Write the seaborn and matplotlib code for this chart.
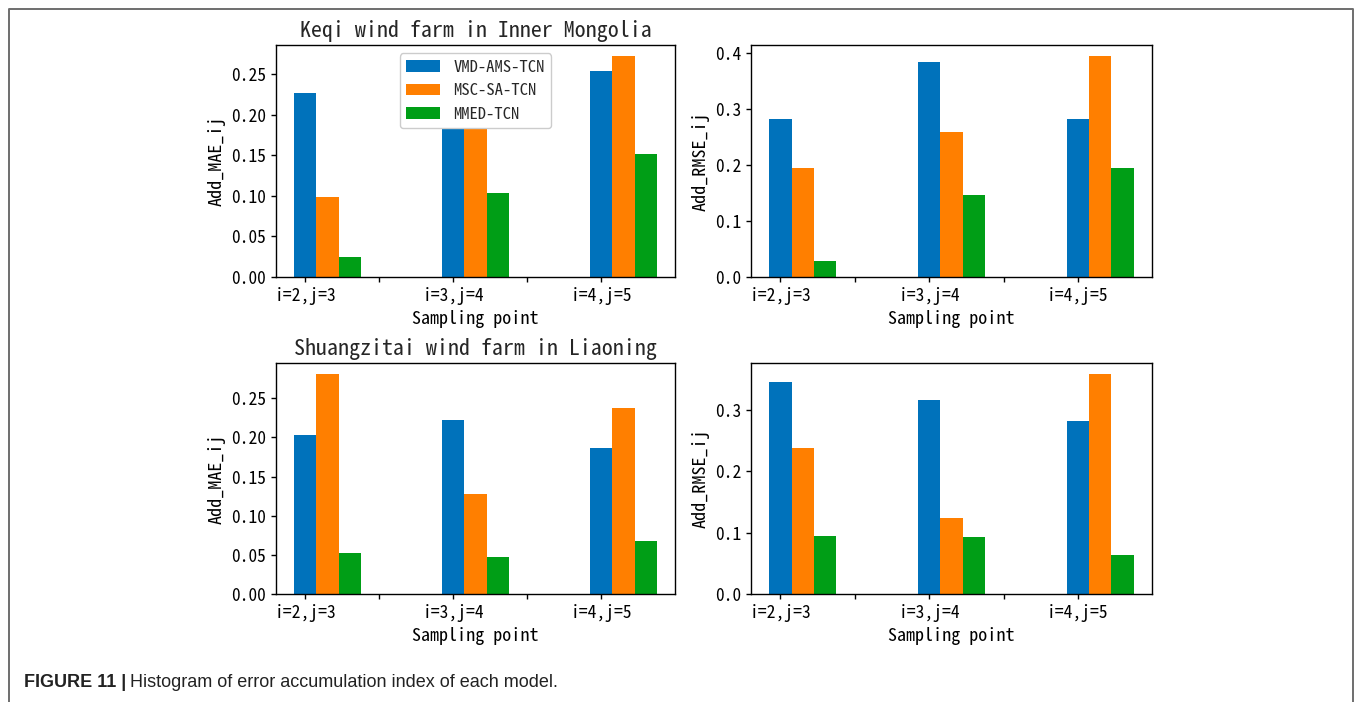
import numpy as np
import pandas as pd
import matplotlib
matplotlib.use("Agg")
import matplotlib.pyplot as plt
from matplotlib.lines import Line2D
from matplotlib.ticker import FormatStrFormatter
import seaborn as sns

# Sampling points (x categories) and models (hue)
points = ["i=2,j=3", "i=3,j=4", "i=4,j=5"]
models = ["VMD-AMS-TCN", "MSC-SA-TCN", "MMED-TCN"]
colors = ["#0072bb", "#ff7f00", "#009e16"]

# Keqi wind farm in Inner Mongolia
keqi_mae_vmd = [0.226, 0.220, 0.253]
keqi_mae_msc = [0.099, 0.205, 0.272]
keqi_mae_mmed = [0.025, 0.103, 0.151]
keqi_rmse_vmd = [0.282, 0.385, 0.283]
keqi_rmse_msc = [0.194, 0.259, 0.395]
keqi_rmse_mmed = [0.029, 0.146, 0.194]

# Shuangzitai wind farm in Liaoning
shz_mae_vmd = [0.203, 0.222, 0.187]
shz_mae_msc = [0.281, 0.128, 0.238]
shz_mae_mmed = [0.053, 0.047, 0.068]
shz_rmse_vmd = [0.345, 0.316, 0.281]
shz_rmse_msc = [0.237, 0.123, 0.358]
shz_rmse_mmed = [0.094, 0.092, 0.063]


def long_frame(vmd, msc, mmed):
    rows = []
    for model, vals in zip(models, (vmd, msc, mmed)):
        for p, v in zip(points, vals):
            rows.append({"point": p, "model": model, "value": v})
    return pd.DataFrame(rows)


sns.set_theme(style="ticks")
mono = ["Noto Sans Mono CJK SC", "DejaVu Sans Mono"]
plt.rcParams["font.family"] = mono
plt.rcParams["axes.edgecolor"] = "black"
plt.rcParams["axes.linewidth"] = 1.0
plt.rcParams["xtick.color"] = "black"
plt.rcParams["ytick.color"] = "black"
plt.rcParams["axes.labelcolor"] = "black"

W, H = 1356, 702
fig = plt.figure(figsize=(W / 100, H / 100), dpi=100)


def px_axes(left, top, right, bottom):
    return fig.add_axes([left / W, 1 - bottom / H, (right - left) / W, (bottom - top) / H])


panels = [
    (px_axes(276, 45, 675, 277), (keqi_mae_vmd, keqi_mae_msc, keqi_mae_mmed),
     "Add_MAE_ij", "Keqi wind farm in Inner Mongolia", True, "%.2f"),
    (px_axes(751, 45, 1152, 277), (keqi_rmse_vmd, keqi_rmse_msc, keqi_rmse_mmed),
     "Add_RMSE_ij", None, False, "%.1f"),
    (px_axes(276, 363, 675, 594), (shz_mae_vmd, shz_mae_msc, shz_mae_mmed),
     "Add_MAE_ij", "Shuangzitai wind farm in Liaoning", False, "%.2f"),
    (px_axes(751, 363, 1152, 594), (shz_rmse_vmd, shz_rmse_msc, shz_rmse_mmed),
     "Add_RMSE_ij", None, False, "%.1f"),
]

bar_w = 0.15
for ax, series, ylabel, title, show_legend, yfmt in panels:
    df = long_frame(*series)
    sns.barplot(data=df, x="point", y="value", hue="model", hue_order=models,
                palette=colors, saturation=1, width=3 * bar_w, errorbar=None,
                linewidth=0, legend=show_legend, ax=ax)
    n = len(points)
    first = np.arange(n) - bar_w
    ticks = np.sort(np.concatenate([first, first[:-1] + 0.5]))
    labels = []
    for t in ticks:
        idx = np.where(np.isclose(first, t))[0]
        labels.append(points[idx[0]] if len(idx) else "")
    ax.set_xticks(ticks)
    ax.set_xticklabels(labels, fontsize=12.6)
    ax.set_xlim(-0.3475, n - 1 + 0.3475)
    ax.set_ylim(0, max(max(s) for s in series) * 1.05)
    ax.yaxis.set_major_formatter(FormatStrFormatter(yfmt))
    ax.tick_params(axis="y", labelsize=12.6)
    ax.tick_params(length=3.5, width=1)
    ax.set_xlabel("Sampling point", fontsize=13)
    ax.set_ylabel(ylabel, fontsize=13)
    if title:
        ax.set_title(title, fontsize=15.8, pad=6)
    if show_legend:
        leg = ax.legend(loc="upper center", fontsize=12, frameon=True,
                        fancybox=True, framealpha=1.0, edgecolor="0.8")
        leg.set_title(None)
    for side in ("top", "right", "left", "bottom"):
        ax.spines[side].set_visible(True)
        ax.spines[side].set_color("black")

# Page frame around the figure
x0, x1, ytop = 8.5 / W, 1353 / W, 1 - 8.5 / H
fig.add_artist(Line2D([x0, x0, x1, x1], [0, ytop, ytop, 0], transform=fig.transFigure,
                      color="#6e6e6e", lw=1.4))

# Caption
cap_font = ["Liberation Sans Narrow", "Liberation Sans", "DejaVu Sans"]
cy = 1 - 687 / H
t1 = fig.text(24 / W, cy, "FIGURE 11 |", fontsize=13, fontweight="bold",
              family=cap_font, va="baseline", ha="left", color="#222222")
fig.canvas.draw()
bb = t1.get_window_extent(renderer=fig.canvas.get_renderer())
fig.text(bb.x1 / W + 4 / W, cy, "Histogram of error accumulation index of each model.",
         fontsize=13, family=cap_font, va="baseline", ha="left", color="#222222")

fig.savefig("out.png", dpi=100)
